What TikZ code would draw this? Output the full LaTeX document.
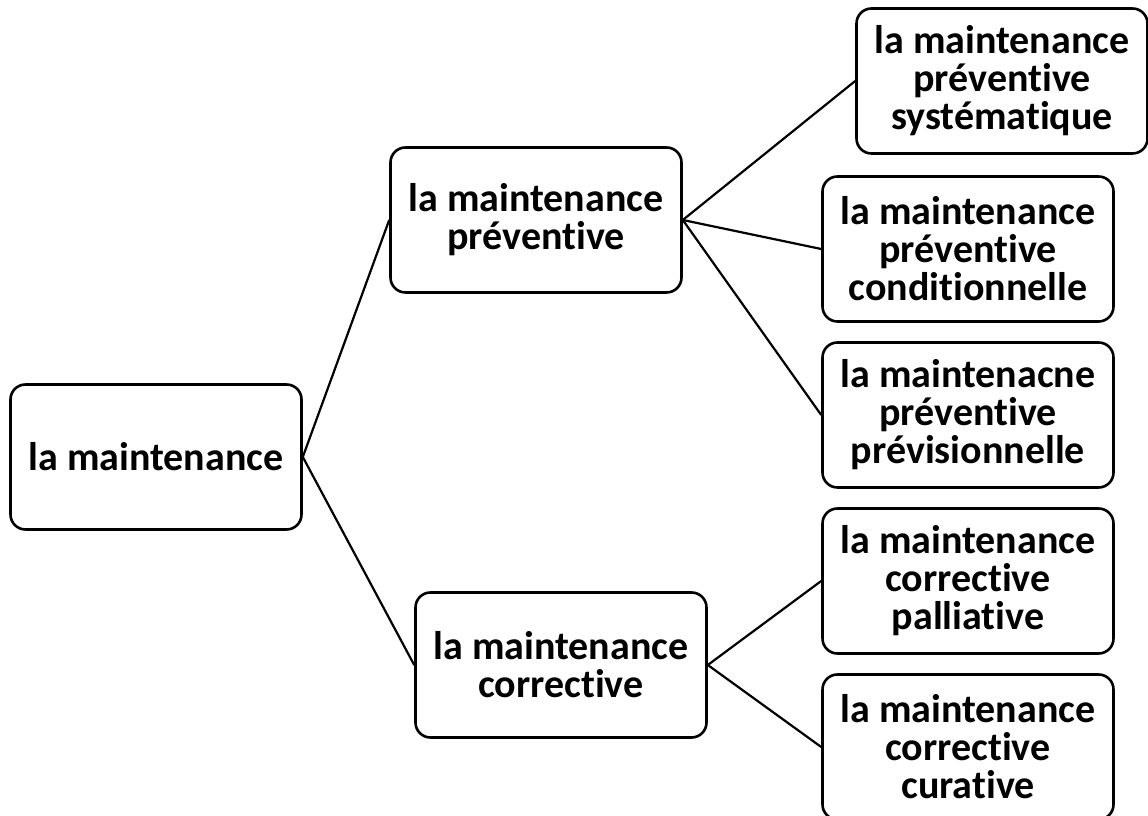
\documentclass[tikz,border=0pt]{standalone}
\usepackage{fontspec}
\setmainfont[Ligatures=CommonOff]{Carlito}
\begin{document}
\begin{tikzpicture}[x=1pt,y=1pt,
  box/.style={draw=black, line width=2.6pt, rounded corners=15pt, fill=white,
    minimum width=291pt, minimum height=145pt, inner sep=0pt,
    align=center, font=\bfseries\fontsize{40}{38}\selectfont},
  link/.style={draw=black, line width=2.2pt}]
\useasboundingbox (0,0) rectangle (1148,816);
% tree nodes
\node[box] (root) at (156,359) {la maintenance};
\node[box] (prev) at (536,596) {la maintenance\\préventive};
\node[box] (corr) at (561,151) {la maintenance\\corrective};
\node[box] (sys)  at (1002,735) {la maintenance\\préventive\\systématique};
\node[box] (cond) at (968,567) {la maintenance\\préventive\\conditionnelle};
\node[box] (pvis) at (968,401) {la maintenacne\\préventive\\prévisionnelle};
\node[box] (pall) at (968,235) {la maintenance\\corrective\\palliative};
\node[box] (cur)  at (968,69)  {la maintenance\\corrective\\curative};
% connectors
\draw[link] (root.east) -- (prev.west);
\draw[link] (root.east) -- (corr.west);
\draw[link] (prev.east) -- (sys.west);
\draw[link] (prev.east) -- (cond.west);
\draw[link] (prev.east) -- (pvis.west);
\draw[link] (corr.east) -- (pall.west);
\draw[link] (corr.east) -- (cur.west);
\end{tikzpicture}
\end{document}
